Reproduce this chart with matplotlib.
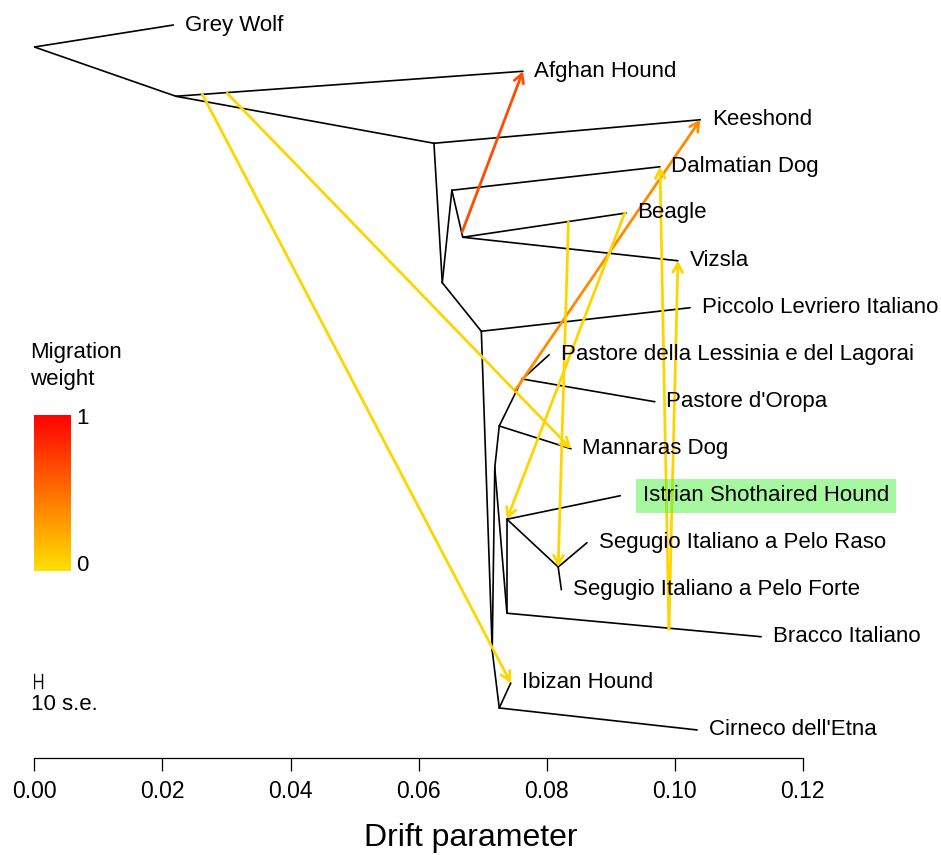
import numpy as np
import matplotlib.pyplot as plt
from matplotlib.colors import LinearSegmentedColormap
from matplotlib.patches import FancyArrowPatch

plt.rcParams['font.family'] = ['Liberation Sans', 'DejaVu Sans']

# tree nodes: drift (x) and vertical position (y, 0 = bottom, 1 = top)
node_names = ["root", "GW", "A", "Afghan", "B", "Keeshond", "C", "D", "Dalmatian", "E",
              "Beagle", "Vizsla", "F", "Piccolo", "G", "X", "H", "I", "Lessinia", "Oropa",
              "Mannaras", "L", "Bracco", "J", "Istrian", "K", "Raso", "Forte", "M",
              "Ibizan", "Cirneco"]
node_drift = [0.0000, 0.0217, 0.0221, 0.0763, 0.0624, 0.1040, 0.0637, 0.0652, 0.0977, 0.0669,
              0.0924, 0.1005, 0.0698, 0.1024, 0.0715, 0.0719, 0.0726, 0.0762, 0.0804, 0.0969,
              0.0838, 0.0738, 0.1135, 0.0738, 0.0915, 0.0818, 0.0863, 0.0823, 0.0726,
              0.0744, 0.1035]
node_y = [0.938, 0.967, 0.873, 0.906, 0.811, 0.842, 0.627, 0.749, 0.780, 0.687,
          0.719, 0.656, 0.563, 0.594, 0.142, 0.383, 0.438, 0.500, 0.532, 0.470,
          0.408, 0.191, 0.160, 0.315, 0.346, 0.252, 0.284, 0.222, 0.066,
          0.099, 0.037]

edges = [("root", "GW"), ("root", "A"), ("A", "Afghan"), ("A", "B"), ("B", "Keeshond"),
         ("B", "C"), ("C", "D"), ("D", "Dalmatian"), ("D", "E"), ("E", "Beagle"),
         ("E", "Vizsla"), ("C", "F"), ("F", "Piccolo"), ("F", "G"), ("G", "X"),
         ("X", "H"), ("H", "Mannaras"), ("H", "I"), ("I", "Lessinia"), ("I", "Oropa"),
         ("X", "L"), ("L", "Bracco"), ("L", "J"), ("J", "Istrian"), ("J", "K"),
         ("K", "Raso"), ("K", "Forte"), ("G", "M"), ("M", "Ibizan"), ("M", "Cirneco")]

leaf_labels = {
    "GW": "Grey Wolf", "Afghan": "Afghan Hound", "Keeshond": "Keeshond",
    "Dalmatian": "Dalmatian Dog", "Beagle": "Beagle", "Vizsla": "Vizsla",
    "Piccolo": "Piccolo Levriero Italiano",
    "Lessinia": "Pastore della Lessinia e del Lagorai", "Oropa": "Pastore d'Oropa",
    "Mannaras": "Mannaras Dog", "Istrian": "Istrian Shothaired Hound",
    "Raso": "Segugio Italiano a Pelo Raso", "Forte": "Segugio Italiano a Pelo Forte",
    "Bracco": "Bracco Italiano", "Ibizan": "Ibizan Hound", "Cirneco": "Cirneco dell'Etna",
}
highlight = "Istrian"

# migration edges: start point on a branch, target node, weight
mig_from_drift = [0.0262, 0.0301, 0.0668, 0.0751, 0.0834, 0.0922, 0.0991, 0.0991]
mig_from_y = [0.876, 0.877, 0.694, 0.485, 0.707, 0.719, 0.170, 0.170]
mig_to = ["Ibizan", "Mannaras", "Afghan", "Keeshond", "K", "J", "Dalmatian", "Vizsla"]
mig_weight = [0.05, 0.05, 0.66, 0.38, 0.05, 0.05, 0.05, 0.05]

se = 0.000125
xticks = [0.00, 0.02, 0.04, 0.06, 0.08, 0.10, 0.12]

pos = {n: (x, y) for n, x, y in zip(node_names, node_drift, node_y)}
cmap = LinearSegmentedColormap.from_list("mig", ["#FFE000", "#FF0000"])

W, H = 941, 855
fig = plt.figure(figsize=(W / 100, H / 100), dpi=100)
x0_px, px_per_drift, axis_px = 34.4, 6403, 758
ax = fig.add_axes([x0_px / W, 1 - axis_px / H, (W - x0_px) / W, axis_px / H])
ax.set_xlim(0, (W - x0_px) / px_per_drift)
ax.set_ylim(0, 1)

for p, c in edges:
    ax.plot([pos[p][0], pos[c][0]], [pos[p][1], pos[c][1]], color="black", lw=1.2,
            solid_capstyle="round", zorder=2)

for fx, fy, t, w in zip(mig_from_drift, mig_from_y, mig_to, mig_weight):
    arr = FancyArrowPatch((fx, fy), pos[t], arrowstyle="->,head_length=0.45,head_width=0.25",
                          mutation_scale=14, lw=2.0, color=cmap(w),
                          shrinkA=0, shrinkB=0, zorder=3)
    ax.add_patch(arr)

dx = 0.0018
for n, lab in leaf_labels.items():
    x, y = pos[n]
    if n == highlight:
        ax.text(x + dx + 0.0017, y, lab, ha="left", va="center", fontsize=16, zorder=5,
                bbox=dict(boxstyle="square,pad=0.3", fc="#4DF341", ec="none", alpha=0.5))
    else:
        ax.text(x + dx, y, lab, ha="left", va="center", fontsize=16, zorder=5)

# scale bar (10 s.e.)
sb_y = 1 - 681 / 758
ax.plot([0, 10 * se], [sb_y, sb_y], color="black", lw=1.0)
for xx in (0, 10 * se):
    ax.plot([xx, xx], [sb_y - 0.009, sb_y + 0.009], color="black", lw=1.0)
ax.text(-0.0006, 1 - 705 / 758, "10 s.e.", ha="left", va="center", fontsize=16)

for s in ["top", "right", "left"]:
    ax.spines[s].set_visible(False)
ax.spines["bottom"].set_bounds(0, 0.12)
ax.spines["bottom"].set_linewidth(0.9)
ax.set_yticks([])
ax.set_xticks(xticks)
ax.set_xticklabels([f"{t:.2f}" for t in xticks])
ax.tick_params(axis="x", direction="out", length=9, width=0.9, pad=7, labelsize=16.5)
fig.text(471 / W, 1 - 838 / H, "Drift parameter", ha="center", va="center", fontsize=23)

# migration weight colour bar
cax = fig.add_axes([34 / W, 1 - 571 / H, 37 / W, 156 / H])
cax.imshow(np.linspace(0, 1, 256).reshape(-1, 1), cmap=cmap, origin="lower", aspect="auto")
cax.axis("off")
fig.text(30 / W, 1 - 352 / H, "Migration", ha="left", va="center", fontsize=16)
fig.text(30 / W, 1 - 379 / H, "weight", ha="left", va="center", fontsize=16)
fig.text(76 / W, 1 - 418 / H, "1", ha="left", va="center", fontsize=16)
fig.text(76 / W, 1 - 565 / H, "0", ha="left", va="center", fontsize=16)

fig.savefig("out.png", dpi=100)
